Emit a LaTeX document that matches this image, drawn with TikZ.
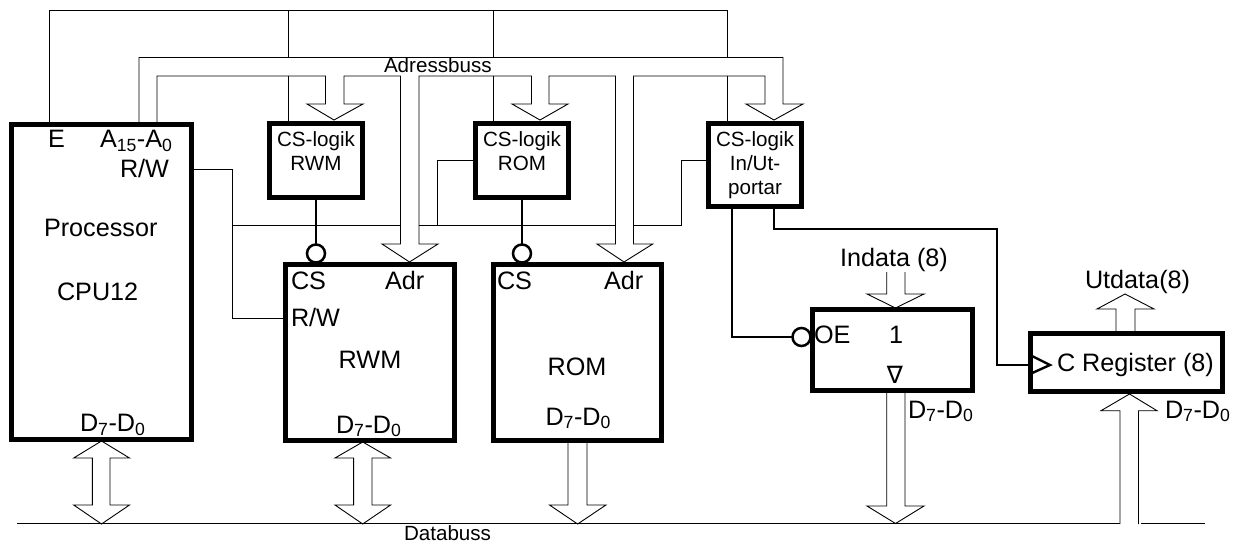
\documentclass[tikz,border=0pt]{standalone}
\usepackage{fontspec}
\setmainfont{Liberation Sans}
\newfontfamily\symfont{DejaVu Sans}
\newcommand{\bigtxt}{\fontsize{25.2}{29}\selectfont}
\newcommand{\smltxt}{\fontsize{20.6}{24}\selectfont}
\newcommand{\ddrange}{D\textsubscript{7}-D\textsubscript{0}}
\tikzset{
 blk/.style={draw=black,line width=5pt,rectangle,outer sep=0pt,inner sep=0pt},
 wire/.style={draw=black,line width=0.9pt,line join=miter},
 ctl/.style={draw=black,line width=2.2pt,line join=miter},
 ctlthin/.style={draw=black,line width=1.6pt,line join=miter},
 bubble/.style={draw=black,line width=2.5pt,circle,inner sep=0pt,outer sep=0pt,minimum size=18pt,fill=white},
 lab/.style={anchor=base west,inner sep=0pt,outer sep=0pt,font=\bigtxt},
 labs/.style={anchor=base west,inner sep=0pt,outer sep=0pt,font=\smltxt},
 labc/.style={anchor=base,inner sep=0pt,outer sep=0pt,font=\smltxt},
 labm/.style={anchor=base,inner sep=0pt,outer sep=0pt,font=\bigtxt},
}
\begin{document}
\begin{tikzpicture}[x=1pt,y=-1pt]
\useasboundingbox (0,0) rectangle (1233,545);
% boxes
\node[blk,minimum width=180pt,minimum height=315pt] (cpu) at (101.5,282) {};
\node[blk,minimum width=169pt,minimum height=176pt] (rwm) at (370,352.4) {};
\node[blk,minimum width=168pt,minimum height=176pt] (rom) at (577.5,352.4) {};
\node[blk,minimum width=93pt,minimum height=74.5pt] (csa) at (316,160.5) {};
\node[blk,minimum width=93pt,minimum height=74.5pt] (csb) at (522,160.5) {};
\node[blk,minimum width=93pt,minimum height=83.5pt] (csc) at (755,165) {};
\node[blk,minimum width=160pt,minimum height=81pt] (buf) at (892.5,350) {};
\node[blk,minimum width=192pt,minimum height=58pt] (reg) at (1126.5,362.5) {};
% junctions
\coordinate (topL) at (49,10.5);
\coordinate (topA) at (288,10.5);
\coordinate (topB) at (493,10.5);
\coordinate (topC) at (727,10.5);
\coordinate (rwA) at (232,169);
\coordinate (rwB) at (232,225.5);
\coordinate (rwC) at (232,318.7);
% enable line
\draw[wire] (topL) -- (topC) -- (727,57.5);
\draw[wire] (49,122) -- (topL);
\draw[wire] (topA) -- (288,57.5);
\draw[wire] (288,76) -- (288,122);
\draw[wire] (topB) -- (493,57.5);
\draw[wire] (493,76) -- (493,122);
\draw[wire] (727,76) -- (727,122);
% address bus outline
\draw[wire] (139,122) -- (139,57.5) -- (783,57.5) -- (783,104) -- (803,104) -- (774,120) -- (746,104) -- (765,104) -- (765,76) -- (633.5,76) -- (633.5,244) -- (652.7,244) -- (624,262) -- (597,244) -- (615.5,244) -- (615.5,76) -- (549,76) -- (549,104) -- (568,104) -- (540,120) -- (512,104) -- (531.5,104) -- (531.5,76) -- (419,76) -- (419,244) -- (438,244) -- (409.5,262) -- (382,244) -- (400.5,244) -- (400.5,76) -- (344,76) -- (344,104) -- (363,104) -- (334,120) -- (307,104) -- (325.5,104) -- (325.5,76) -- (157,76) -- (157,122);
% R/W
\draw[wire] (rwA -| cpu.east) -- (rwA) -- (rwC) -- (rwC -| rwm.west);
\draw[wire] (rwB) -- (400.5,225.5);
\draw[wire] (419,225.5) -- (615.5,225.5);
\draw[wire] (633.5,225.5) -- (681.7,225.5) -- (681.7,160) -- (csc.west |- 0,160);
\draw[wire] (437,225.5) -- (437,160) -- (csb.west |- 0,160);
% chip selects
\node[bubble] (bwa) at (316,253.5) {};
\node[bubble] (bwb) at (522,253.5) {};
\node[bubble] (bwc) at (801.5,337) {};
\draw[ctl] (csa.south) -- (bwa.north);
\draw[ctlthin] (csb.south) -- (bwb.north);
\coordinate (oeC) at (732,337);
\draw[ctlthin] (732,209) -- (oeC) -- (bwc.west);
\coordinate (clkA) at (774,229);
\coordinate (clkB) at (997,229);
\coordinate (clkC) at (997,365);
\draw[ctlthin] (774,209) -- (clkA) -- (clkB) -- (clkC) -- (clkC -| reg.west);
\draw[black,line width=2.4pt,line join=miter] (1030,355) -- (1050,365) -- (1030,374);
% data bus
\draw[wire] (17,523.5) -- (1120,523.5);
\draw[wire] (1141,523.5) -- (1205,523.5);
% data arrows
\draw[wire] (101.5,441) -- (129.5,458) -- (110,458) -- (110,505) -- (129.5,505) -- (101.5,524) -- (73.7,505) -- (92.4,505) -- (92.4,458) -- (73.7,458) -- cycle;
\draw[wire] (362.7,442) -- (390.6,458) -- (372,458) -- (372,505) -- (390.6,505) -- (362.7,524) -- (335,505) -- (353.6,505) -- (353.6,458) -- (335,458) -- cycle;
\draw[wire] (568,443) -- (568,505) -- (549.5,505) -- (577.6,524) -- (606,505) -- (587,505) -- (587,443);
\draw[wire] (886.7,393) -- (886.7,506) -- (867,506) -- (895.5,523.5) -- (924,506) -- (905,506) -- (905,393);
\draw[wire] (1120,524) -- (1120,410.7) -- (1101,410.7) -- (1129.5,394) -- (1157,410.7) -- (1138.5,410.7) -- (1138.5,524);
\draw[wire] (886.7,272) -- (886.7,294) -- (867,294) -- (895.5,308) -- (924,294) -- (905,294) -- (905,272);
\draw[wire] (1116,331) -- (1116,309) -- (1097,309) -- (1125,294) -- (1154,309) -- (1135,309) -- (1135,331);
% texts
\node[lab] (tE) at (48,147.5) {E};
\node[lab] (tA) at (100,147.5) {A\textsubscript{15}-A\textsubscript{0}};
\node[lab] (tRW) at (120,177.5) {R/W};
\node[lab] (tP) at (44,236.5) {Processor};
\node[lab] (tC) at (57,300) {CPU12};
\node[lab] (tD1) at (80,431.5) {\ddrange};
\node[labc] (a1) at (316,147) {CS-logik};
\node[labc] (a2) at (316,171) {RWM};
\node[labc] (b1) at (522,147) {CS-logik};
\node[labc] (b2) at (522,171) {ROM};
\node[labc] (c1) at (755,147) {CS-logik};
\node[labc] (c2) at (755,171) {In/Ut-};
\node[labc] (c3) at (755,195) {portar};
\node[lab] (r1) at (291,289) {CS};
\node[lab] (r2) at (385,289) {Adr};
\node[lab] (r3) at (291,326) {R/W};
\node[labm] (r4) at (370,368) {RWM};
\node[lab] (r5) at (336,433) {\ddrange};
\node[lab] (m1) at (497,289) {CS};
\node[lab] (m2) at (604,289) {Adr};
\node[labm] (m3) at (577,375) {ROM};
\node[lab] (m4) at (545.5,425) {\ddrange};
\node[lab] (o1) at (814,343) {OE};
\node[lab] (o2) at (889,343) {1};
\node[anchor=base,inner sep=0pt,font=\symfont\fontsize{24}{28}\selectfont] (o3) at (895,383) {∇};
\node[lab] (o4) at (908,418) {\ddrange};
\node[lab] (i1) at (840,266.7) {Indata (8)};
\node[lab] (u1) at (1085,288) {Utdata(8)};
\node[lab] (g1) at (1057,371) {C Register (8)};
\node[lab] (g2) at (1165,418) {\ddrange};
\node[labs] (bA) at (384,73) {Adressbuss};
\node[labs] (bD) at (404,540) {Databuss};
\end{tikzpicture}
\end{document}
